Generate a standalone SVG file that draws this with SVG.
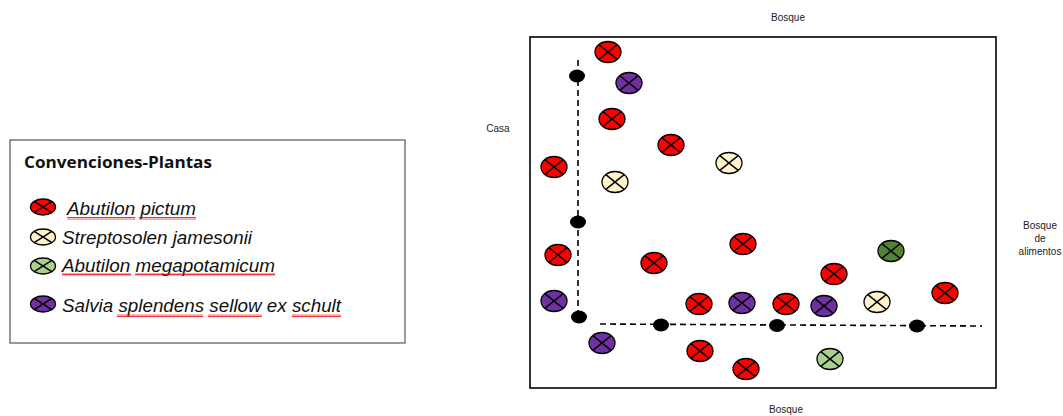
<svg xmlns="http://www.w3.org/2000/svg" xmlns:xlink="http://www.w3.org/1999/xlink" width="1063" height="416" viewBox="0 0 1063 416">
<style>
.lbl{font-family:"Liberation Sans",Arial,sans-serif;font-size:10px;fill:#222}
.leg{font-family:"Liberation Sans",Arial,sans-serif;font-size:18.5px;font-style:italic;fill:#111}
.ttl{font-family:"Open Sans","Liberation Sans",sans-serif;font-size:16px;font-weight:bold;fill:#111}
.dash{fill:none;stroke:#000;stroke-width:1.6;stroke-dasharray:6 4}
.dot{fill:#000}
.o{stroke:#000;stroke-width:1.3}
.x{stroke:#000;stroke-width:1.4}
</style>
<defs>
<pattern id="wave" width="4" height="3" patternUnits="userSpaceOnUse">
<polyline points="0,2.5 1,0.5 2,2.5 3,0.5 4,2.5" fill="none" stroke="#e00" stroke-width="0.8"/>
</pattern>
<g id="cx"><line class="x" x1="-9.2" y1="-7.4" x2="9.2" y2="7.4"/><line class="x" x1="-9.2" y1="7.4" x2="9.2" y2="-7.4"/></g>
<g id="red"><ellipse class="o" rx="13" ry="10.5" fill="#ff0000"/><use xlink:href="#cx"/></g>
<g id="pur"><ellipse class="o" rx="13" ry="10.5" fill="#7030a0"/><use xlink:href="#cx"/></g>
<g id="cre"><ellipse class="o" rx="13" ry="10.5" fill="#fff2cc"/><use xlink:href="#cx"/></g>
<g id="lgr"><ellipse class="o" rx="13" ry="10.5" fill="#a9d18e"/><use xlink:href="#cx"/></g>
<g id="dgr"><ellipse class="o" rx="13" ry="10.5" fill="#548235"/><use xlink:href="#cx"/></g>
<g id="lcx"><line class="x" x1="-8.8" y1="-5.7" x2="8.8" y2="5.7"/><line class="x" x1="-8.8" y1="5.7" x2="8.8" y2="-5.7"/></g>
</defs>
<rect width="1063" height="416" fill="#fff"/>

<g id="legend">
<rect x="10" y="140" width="395" height="203" fill="#fff" stroke="#555" stroke-width="1.2"/>
<text class="ttl" x="24" y="168" textLength="188" lengthAdjust="spacingAndGlyphs">Convenciones-Plantas</text>
<g id="leg-red"><ellipse class="o" cx="43" cy="207" rx="12.5" ry="8" fill="#ff0000"/><use xlink:href="#lcx" x="43" y="207"/></g>
<g id="leg-cre"><ellipse class="o" cx="43" cy="237" rx="12.5" ry="8" fill="#fff2cc"/><use xlink:href="#lcx" x="43" y="237"/></g>
<g id="leg-lgr"><ellipse class="o" cx="43" cy="266" rx="12.5" ry="8" fill="#a9d18e"/><use xlink:href="#lcx" x="43" y="266"/></g>
<g id="leg-pur"><ellipse class="o" cx="43" cy="304" rx="12.5" ry="8" fill="#7030a0"/><use xlink:href="#lcx" x="43" y="304"/></g>
<text class="leg" x="67" y="215" textLength="129" lengthAdjust="spacingAndGlyphs">Abutilon pictum</text>
<text class="leg" x="62" y="244" textLength="190" lengthAdjust="spacingAndGlyphs">Streptosolen jamesonii</text>
<text class="leg" x="62" y="272" textLength="213" lengthAdjust="spacingAndGlyphs">Abutilon megapotamicum</text>
<text class="leg" x="62" y="312" textLength="279" lengthAdjust="spacingAndGlyphs">Salvia splendens sellow ex schult</text>
<g fill="url(#wave)">
<rect x="67" y="217" width="68" height="3"/>
<rect x="139" y="217" width="57" height="3"/>
<rect x="62" y="273" width="69" height="3"/>
<rect x="135" y="273" width="140" height="3"/>
<rect x="117" y="314" width="86" height="3"/>
<rect x="208" y="314" width="54" height="3"/>
<rect x="292" y="314" width="49" height="3"/>
</g>
</g>

<g id="frame">
<rect x="530" y="37" width="466" height="351" fill="none" stroke="#000" stroke-width="1.6"/>
</g>

<g id="labels">
<text class="lbl" x="788" y="21" text-anchor="middle">Bosque</text>
<text class="lbl" x="498" y="132" text-anchor="middle">Casa</text>
<text class="lbl" x="1040" y="229" text-anchor="middle">Bosque</text>
<text class="lbl" x="1040" y="242" text-anchor="middle">de</text>
<text class="lbl" x="1040" y="255" text-anchor="middle">alimentos</text>
<text class="lbl" x="786" y="413" text-anchor="middle">Bosque</text>
</g>

<g id="connectors">
<line class="dash" x1="578" y1="60" x2="578" y2="317"/>
<line class="dash" x1="600" y1="324" x2="982" y2="326"/>
</g>

<g id="markers">
<ellipse class="dot" cx="577" cy="76" rx="8" ry="6.5"/>
<ellipse class="dot" cx="578" cy="222" rx="8" ry="6.5"/>
<ellipse class="dot" cx="579" cy="317" rx="8" ry="6.5"/>
<ellipse class="dot" cx="661" cy="325" rx="8" ry="6.5"/>
<ellipse class="dot" cx="777" cy="325.5" rx="8" ry="6.5"/>
<ellipse class="dot" cx="917" cy="326" rx="8" ry="6.5"/>
</g>

<g id="plants">
<g id="r1"><use xlink:href="#red" x="608" y="52"/></g>
<g id="r2"><use xlink:href="#red" x="612" y="119"/></g>
<g id="r3"><use xlink:href="#red" x="671" y="145"/></g>
<g id="r4"><use xlink:href="#red" x="554" y="167"/></g>
<g id="r5"><use xlink:href="#red" x="558" y="255"/></g>
<g id="r6"><use xlink:href="#red" x="654" y="263"/></g>
<g id="r7"><use xlink:href="#red" x="743" y="244"/></g>
<g id="r8"><use xlink:href="#red" x="834" y="274"/></g>
<g id="r9"><use xlink:href="#red" x="699" y="304"/></g>
<g id="r10"><use xlink:href="#red" x="786" y="304"/></g>
<g id="r11"><use xlink:href="#red" x="945" y="293"/></g>
<g id="r12"><use xlink:href="#red" x="700" y="351"/></g>
<g id="r13"><use xlink:href="#red" x="746" y="369"/></g>
<g id="p1"><use xlink:href="#pur" x="629" y="83"/></g>
<g id="p2"><use xlink:href="#pur" x="554" y="301"/></g>
<g id="p3"><use xlink:href="#pur" x="742" y="303"/></g>
<g id="p4"><use xlink:href="#pur" x="824" y="306"/></g>
<g id="p5"><use xlink:href="#pur" x="602" y="343"/></g>
<g id="c1"><use xlink:href="#cre" x="615" y="182"/></g>
<g id="c2"><use xlink:href="#cre" x="729" y="163"/></g>
<g id="c3"><use xlink:href="#cre" x="877" y="302"/></g>
<g id="g1"><use xlink:href="#lgr" x="830" y="359"/></g>
<g id="g2"><use xlink:href="#dgr" x="891" y="251"/></g>
</g>
</svg>
